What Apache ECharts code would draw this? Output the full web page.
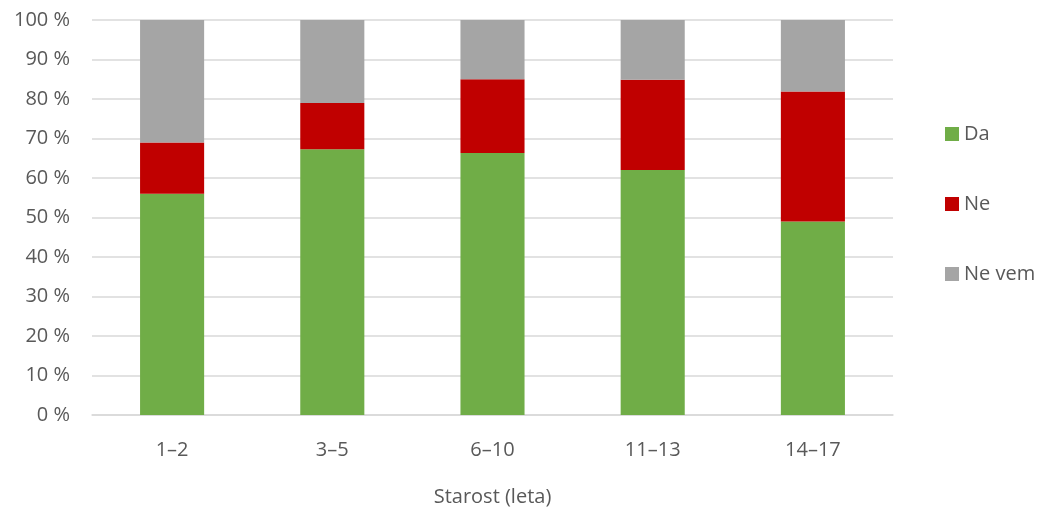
<!DOCTYPE html>
<html>
<head>
<meta charset="utf-8">
<script src="https://cdn.jsdelivr.net/npm/echarts@6/dist/echarts.min.js"></script>
<style>html,body{margin:0;padding:0;background:#fff}#c{width:1045px;height:514px}</style>
</head>
<body>
<div id="c"></div>
<script>
const categories = ['1–2', '3–5', '6–10', '11–13', '14–17'];
const da = [56, 67.3, 66.3, 62, 49];
const ne = [13, 11.7, 18.7, 22.9, 32.9];
const neVem = [31, 21, 15, 15.1, 18.1];
const yTicks = [0, 10, 20, 30, 40, 50, 60, 70, 80, 90, 100];

const font = 'Open Sans, Liberation Sans, sans-serif';
const txt = '#595959';
const chart = echarts.init(document.getElementById('c'));
chart.setOption({
  animation: false,
  textStyle: { fontFamily: font },
  grid: { left: 92, right: 152, top: 20, bottom: 99 },
  legend: {
    orient: 'vertical', left: 940, top: 119, itemGap: 50,
    itemWidth: 14, itemHeight: 14, icon: 'rect',
    textStyle: { fontSize: 20, color: txt, fontFamily: font },
    data: ['Da', 'Ne', 'Ne vem']
  },
  xAxis: {
    type: 'category', data: categories,
    name: 'Starost (leta)', nameLocation: 'middle', nameGap: 72,
    nameTextStyle: { fontSize: 20, color: txt, fontFamily: font },
    axisLine: { lineStyle: { color: '#d9d9d9', width: 1.5 } },
    axisTick: { show: false },
    axisLabel: { fontSize: 20, color: txt, margin: 25, fontFamily: font }
  },
  yAxis: {
    type: 'value', min: yTicks[0], max: yTicks[yTicks.length - 1], interval: 10,
    axisLine: { show: false }, axisTick: { show: false },
    splitLine: { lineStyle: { color: '#d9d9d9', width: 1.5 } },
    axisLabel: { fontSize: 20, color: txt, margin: 22, fontFamily: font, formatter: v => v + ' %' }
  },
  series: [
    { name: 'Da', type: 'bar', stack: 't', data: da, barWidth: '40%', itemStyle: { color: '#70ad47' } },
    { name: 'Ne', type: 'bar', stack: 't', data: ne, itemStyle: { color: '#c00000' } },
    { name: 'Ne vem', type: 'bar', stack: 't', data: neVem, itemStyle: { color: '#a5a5a5' } }
  ]
});
</script>
</body>
</html>
